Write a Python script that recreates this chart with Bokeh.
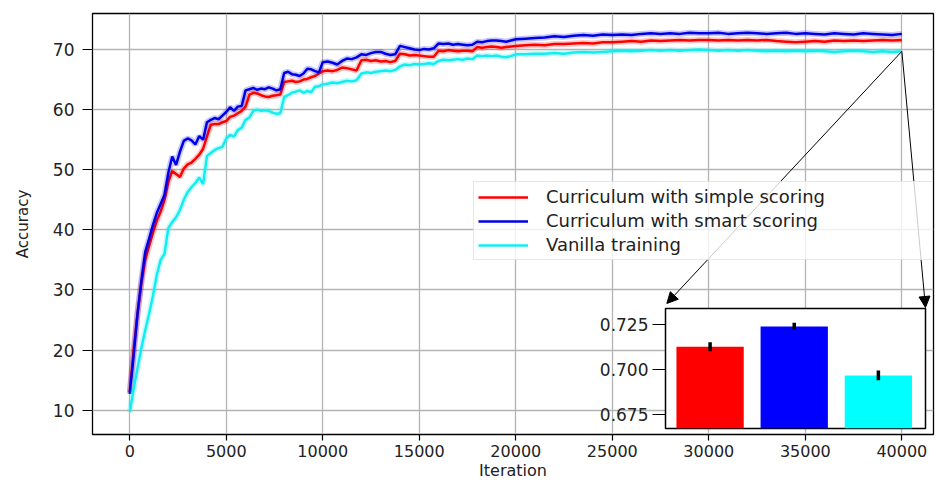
from bokeh.plotting import figure
from bokeh.models import (Range1d, FixedTicker, Legend, LegendItem, Arrow,
                          NormalHead, PrintfTickFormatter)
from bokeh.layouts import column
from bokeh.embed import file_html
from bokeh.resources import INLINE

# ---------------------------------------------------------------- data
# evaluation grid: dense early on, coarser once the curves flatten out
iterations = (list(range(0, 10001, 200))
              + list(range(10250, 20001, 250))
              + list(range(20500, 40001, 500)))

simple_scoring = [
    13.0, 20.0, 26.0, 31.0, 35.0, 37.3, 39.5, 41.5, 43.0, 45.0,
    48.0, 49.8, 49.3, 48.8, 50.2, 50.9, 51.2, 51.8, 52.5, 53.5,
    55.5, 57.5, 57.6, 57.6, 57.9, 58.1, 58.8, 59.0, 59.4, 59.8,
    60.5, 62.5, 62.8, 62.7, 62.4, 62.2, 62.1, 62.3, 62.4, 62.5,
    64.6, 64.7, 64.8, 64.6, 64.7, 65.0, 65.1, 65.4, 65.6, 66.0,
    66.4,
    66.5, 66.4, 66.6, 67.0, 66.9, 66.7, 66.5, 68.2, 68.3, 68.1,
    68.2, 68.0, 68.1, 67.9, 68.1, 69.3, 69.2, 69.0, 69.1, 69.0,
    68.9, 68.8, 68.8, 69.8, 69.7, 69.9, 69.8, 69.7, 69.8, 69.8,
    69.7, 70.4, 70.3, 70.4, 70.5, 70.4, 70.3, 70.4, 70.5, 70.6,
    70.7, 70.8, 70.7, 70.9, 70.9, 71.0, 71.1, 71.0, 71.2, 71.2,
    71.3, 71.4, 71.3, 71.5, 71.4, 71.5, 71.6, 71.5, 71.6, 71.6,
    71.5, 71.6, 71.5, 71.6, 71.5, 71.6, 71.4, 71.3, 71.2, 71.3,
    71.4, 71.3, 71.5, 71.4, 71.5, 71.4, 71.5, 71.6, 71.5, 71.6,
]

smart_scoring = [
    12.7, 19.0, 26.0, 31.5, 36.3, 38.5, 40.8, 42.8, 44.3, 45.8,
    49.5, 52.2, 50.8, 53.0, 54.8, 55.2, 54.9, 54.2, 55.6, 55.0,
    57.9, 58.3, 58.6, 58.4, 59.0, 59.6, 60.4, 59.8, 60.5, 60.6,
    63.2, 63.4, 63.6, 63.3, 63.5, 63.4, 63.7, 63.5, 63.2, 63.4,
    66.1, 66.3, 65.9, 65.8, 65.6, 66.0, 66.8, 66.7, 66.4, 66.2,
    67.9,
    68.0, 67.8, 67.5, 68.1, 68.5, 68.4, 68.7, 69.2, 69.1, 69.4,
    69.6, 69.6, 69.3, 69.1, 69.2, 70.6, 70.4, 70.2, 70.0, 69.9,
    70.1, 70.0, 70.2, 71.0, 70.9, 71.0, 70.8, 70.9, 70.8, 70.7,
    70.8, 71.3, 71.2, 71.4, 71.5, 71.5, 71.4, 71.3, 71.5, 71.7,
    71.8, 71.9, 72.0, 72.2, 72.1, 72.3, 72.4, 72.3, 72.5, 72.4,
    72.5, 72.4, 72.6, 72.7, 72.6, 72.7, 72.6, 72.8, 72.7, 72.7,
    72.8, 72.6, 72.7, 72.8, 72.7, 72.6, 72.7, 72.8, 72.6, 72.7,
    72.6, 72.5, 72.7, 72.6, 72.5, 72.7, 72.6, 72.5, 72.4, 72.6,
]

vanilla = [
    9.7, 13.5, 17.0, 20.3, 23.3, 26.0, 29.0, 32.5, 35.0, 36.0,
    40.3, 41.3, 42.1, 43.3, 45.0, 46.3, 47.1, 47.8, 48.7, 47.6,
    52.3, 52.8, 53.3, 53.6, 53.8, 55.2, 55.8, 55.5, 56.6, 57.0,
    58.3, 58.7, 59.8, 60.0, 59.8, 59.9, 59.8, 59.5, 59.3, 59.4,
    62.1, 62.4, 62.8, 63.0, 63.2, 62.8, 63.1, 62.9, 63.8, 63.9,
    64.2,
    64.3, 64.5, 64.4, 64.6, 64.8, 64.7, 64.9, 66.0, 66.2, 66.1,
    66.3, 66.4, 66.5, 66.4, 66.6, 67.2, 67.5, 67.4, 67.6, 67.5,
    67.6, 67.7, 67.6, 68.1, 68.3, 68.2, 68.3, 68.4, 68.3, 68.5,
    68.4, 69.0, 68.9, 69.0, 68.9, 69.0, 68.8, 68.7, 68.9, 69.2,
    69.2, 69.3, 69.3, 69.4, 69.3, 69.5, 69.6, 69.5, 69.6, 69.7,
    69.8, 69.7, 69.8, 69.9, 69.8, 69.9, 69.8, 69.9, 70.0, 69.9,
    69.8, 69.9, 69.8, 69.9, 69.8, 69.7, 69.8, 69.7, 69.8, 69.7,
    69.8, 69.7, 69.6, 69.7, 69.8, 69.7, 69.6, 69.7, 69.6, 69.7,
]

series_labels = ["Curriculum with simple scoring",
                 "Curriculum with smart scoring",
                 "Vanilla training"]

# final accuracy (fraction) with its spread, one bar per method
final_accuracy = [0.7125, 0.7237, 0.6967]
final_error = [0.0025, 0.0020, 0.0027]

x_ticks = [0, 5000, 10000, 15000, 20000, 25000, 30000, 35000, 40000]
y_ticks = [10, 20, 30, 40, 50, 60, 70]
inset_ticks = [0.675, 0.700, 0.725]

# ---------------------------------------------------------------- style
LINE_COLORS = ["#ff0000", "#0000e6", "#12eef0"]
BAR_COLORS = ["#ff0000", "#0000ff", "#00ffff"]
FONT = "DejaVu Sans"
TEXT = "#222222"
GRID = "#b4b4b4"

W, H = 936, 482
FRAME_L, FRAME_R, FRAME_T, FRAME_B = 92, 934, 13, 434
X0, X1 = -1930, 41640
Y0, Y1 = 5.96, 75.99

# inset frame on the page (pixels)
IN_L, IN_T, IN_R, IN_B = 663, 308, 925, 428
IN_BORDER_L = 90
IN_PAD = 3

# ---------------------------------------------------------------- main plot
p = figure(width=W, height=H, x_range=Range1d(X0, X1), y_range=Range1d(Y0, Y1),
           output_backend="svg", toolbar_location=None,
           min_border_left=FRAME_L, min_border_right=W - FRAME_R,
           min_border_top=FRAME_T, min_border_bottom=H - FRAME_B)
p.background_fill_color = "white"
p.border_fill_color = "white"
p.outline_line_color = "black"
p.outline_line_width = 1.3

p.xaxis.ticker = FixedTicker(ticks=x_ticks)
p.yaxis.ticker = FixedTicker(ticks=y_ticks)
p.xaxis.axis_label = "Iteration"
p.yaxis.axis_label = "Accuracy"
for ax in (p.xaxis, p.yaxis):
    ax.axis_line_color = None
    ax.major_tick_line_color = "black"
    ax.major_tick_line_width = 1.2
    ax.minor_tick_line_color = None
    ax.major_tick_in = 0
    ax.major_label_text_font = FONT
    ax.major_label_text_color = TEXT
    ax.axis_label_text_font = FONT
    ax.axis_label_text_font_style = "normal"
    ax.axis_label_text_color = TEXT
p.xaxis.major_tick_out = 6
p.xaxis.major_label_standoff = 4
p.xaxis.major_label_text_font_size = "16px"
p.xaxis.axis_label_text_font_size = "16px"
p.xaxis.axis_label_standoff = 1
p.yaxis.major_tick_out = 10
p.yaxis.major_label_standoff = 8
p.yaxis.major_label_text_font_size = "17px"
p.yaxis.axis_label_text_font_size = "15px"
p.yaxis.axis_label_standoff = 18

p.grid.grid_line_color = GRID
p.grid.grid_line_width = 1.3

items = []
for vals, color, label in zip([simple_scoring, smart_scoring, vanilla],
                              LINE_COLORS, series_labels):
    p.line(iterations, vals, line_color=color, line_width=6, line_alpha=0.22)
    r = p.line(iterations, vals, line_color=color, line_width=2.5)
    items.append(LegendItem(label=label, renderers=[r]))

legend = Legend(items=items, location=(381, 174),
                label_text_font=FONT, label_text_font_size="18px",
                label_text_color=TEXT, label_width=382, label_height=18,
                glyph_width=50, glyph_height=18, label_standoff=18,
                spacing=3, padding=4, margin=0,
                border_line_color="#d0d0d0", border_line_width=1,
                background_fill_color="white", background_fill_alpha=0.8)
p.add_layout(legend)


def to_data(px, py):
    """Page pixel -> main-plot data coordinates."""
    x = X0 + (px - FRAME_L) / (FRAME_R - FRAME_L) * (X1 - X0)
    y = Y1 - (py - FRAME_T) / (FRAME_B - FRAME_T) * (Y1 - Y0)
    return x, y


# zoom arrows from the end of the curves to the inset's upper corners
start_x, start_y = iterations[-1], vanilla[-1]
for corner in [(IN_L + 4, IN_T - 5), (IN_R + 1, IN_T - 1)]:
    ex, ey = to_data(*corner)
    p.add_layout(Arrow(x_start=start_x, y_start=start_y, x_end=ex, y_end=ey,
                       line_color="black", line_width=1,
                       end=NormalHead(size=11, fill_color="black",
                                      line_color="black")))

# ---------------------------------------------------------------- inset
inset_w = IN_BORDER_L + (IN_R - IN_L) + IN_PAD
inset_h = IN_PAD + (IN_B - IN_T) + IN_PAD
page_left = IN_L - IN_BORDER_L
page_top = IN_T - IN_PAD

inset = figure(width=inset_w, height=inset_h,
               x_range=Range1d(-0.53, 2.56), y_range=Range1d(0.6674, 0.7336),
               output_backend="svg", toolbar_location=None, x_axis_location=None,
               min_border_left=IN_BORDER_L, min_border_right=IN_PAD,
               min_border_top=IN_PAD, min_border_bottom=IN_PAD,
               margin=(page_top - H, 0, H - (page_top + inset_h), page_left))
inset.border_fill_color = None
inset.background_fill_color = "white"
inset.outline_line_color = "black"
inset.outline_line_width = 1.5
inset.grid.visible = False

yax = inset.yaxis[0]
yax.ticker = FixedTicker(ticks=inset_ticks)
yax.formatter = PrintfTickFormatter(format="%.3f")
yax.axis_line_color = None
yax.major_tick_in = 0
yax.major_tick_out = 13
yax.major_tick_line_width = 1.2
yax.minor_tick_line_color = None
yax.major_label_standoff = 4
yax.major_label_text_font = FONT
yax.major_label_text_font_size = "17px"
yax.major_label_text_color = TEXT

positions = list(range(len(final_accuracy)))
inset.vbar(x=positions, top=final_accuracy, bottom=0.6, width=0.8,
           fill_color=BAR_COLORS, line_color=None)
lower = [a - e for a, e in zip(final_accuracy, final_error)]
upper = [a + e for a, e in zip(final_accuracy, final_error)]
inset.segment(x0=positions, y0=lower, x1=positions, y1=upper,
              line_color="black", line_width=3.5)

layout = column(p, inset, spacing=0)
open("out.html", "w").write(file_html(layout, INLINE))
